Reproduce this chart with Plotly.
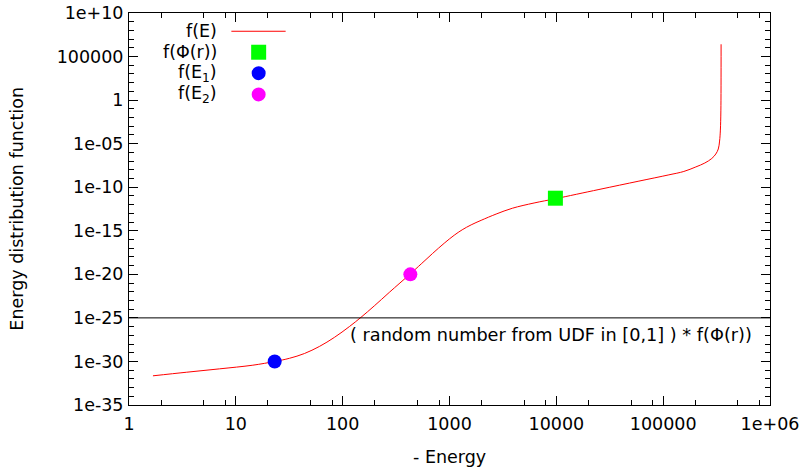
import plotly.graph_objects as go

# ---- data ----
energy = [1.676, 3.439, 7.04, 14.42, 23.14, 31.76, 43.86, 60.56, 83.64, 115.5,
          148.6, 197.8, 273.2, 429.2, 543.9, 693.6, 892.4, 1107, 1314, 1595,
          1978, 2732, 3880, 6189, 9788, 25060, 59280, 113100, 156100, 202200,
          245300, 285200, 310900, 328100, 337400, 343200, 346900, 348400]
log_f = [-31.65, -31.24, -30.85, -30.43, -30.0, -29.64, -29.09, -28.28, -27.24,
         -26.0, -24.93, -23.62, -22.07, -19.95, -18.80, -17.61, -16.43, -15.51,
         -14.89, -14.32, -13.80, -13.08, -12.41, -11.81, -11.32, -10.26, -9.30,
         -8.58, -8.19, -7.67, -7.22, -6.70, -6.19, -5.61, -4.70, -3.44, -1.15,
         6.41]
f_vals = [10 ** v for v in log_f]

phi_E = [9800]
phi_f = [5.5e-12]
e1_E = [23.1]
e1_f = [1e-30]
e2_E = [430]
e2_f = [1e-20]
threshold = 1e-25

ytick_vals = [1e10, 1e5, 1, 1e-5, 1e-10, 1e-15, 1e-20, 1e-25, 1e-30, 1e-35]
ytick_text = ["1e+10", "100000", "1", "1e-05", "1e-10", "1e-15", "1e-20",
              "1e-25", "1e-30", "1e-35"]
xtick_vals = [1, 10, 100, 1000, 10000, 100000, 1000000]
xtick_text = ["1", "10", "100", "1000", "10000", "100000", "1e+06"]

x_minor = [m * 10 ** d for d in range(6) for m in (2, 5, 8)]
y_minor = [10.0 ** k for k in range(-35, 11) if k % 5 != 0]

FONT = "DejaVu Sans"
FS = 17.5

fig = go.Figure()
fig.add_trace(go.Scatter(x=energy, y=f_vals, mode="lines",
                         line=dict(color="#ff0000", width=1, shape="spline", smoothing=1.0),
                         showlegend=False))
fig.add_trace(go.Scatter(x=[1, 1e6], y=[threshold, threshold], mode="lines",
                         line=dict(color="black", width=1), showlegend=False))
fig.add_trace(go.Scatter(x=phi_E, y=phi_f, mode="markers",
                         marker=dict(symbol="square", size=15, color="#00ff00"),
                         showlegend=False))
fig.add_trace(go.Scatter(x=e1_E, y=e1_f, mode="markers",
                         marker=dict(symbol="circle", size=14, color="#0000ff"),
                         showlegend=False))
fig.add_trace(go.Scatter(x=e2_E, y=e2_f, mode="markers",
                         marker=dict(symbol="circle", size=14, color="#ff00ff"),
                         showlegend=False))

axis_common = dict(showline=True, linecolor="black", linewidth=1, mirror="ticks",
                   ticks="inside", ticklen=9, tickwidth=1, tickcolor="black",
                   showgrid=False, zeroline=False, automargin=False,
                   tickfont=dict(family=FONT, size=FS, color="black"))

fig.update_xaxes(type="log", range=[0, 6], tickmode="array", tickvals=xtick_vals,
                 ticktext=xtick_text,
                 minor=dict(tickmode="array", tickvals=x_minor, ticks="inside",
                            ticklen=5, tickcolor="black", tickwidth=1),
                 ticklabelstandoff=3,
                 **axis_common)
fig.update_yaxes(type="log", range=[-35, 10], tickmode="array", tickvals=ytick_vals,
                 ticktext=ytick_text,
                 minor=dict(tickmode="array", tickvals=y_minor, ticks="inside",
                            ticklen=5, tickcolor="black", tickwidth=1),
                 ticklabelstandoff=1,
                 **axis_common)

W, H = 803, 470
L, R, T, B = 129.3, 770.5, 12.7, 405.5
def px(xp):
    return (xp - L) / (R - L)
def py(yp):
    return (B - yp) / (B - T)

# axis titles
fig.add_annotation(x=px(449.7), y=py(458), xref="paper", yref="paper",
                   xanchor="center", yanchor="middle", text="- Energy", showarrow=False,
                   font=dict(family=FONT, size=FS, color="black"))
fig.add_annotation(x=px(17), y=py(209), xref="paper", yref="paper", textangle=-90,
                   xanchor="center", yanchor="middle", text="Energy distribution function",
                   showarrow=False, font=dict(family=FONT, size=FS, color="black"))

# annotation text for the threshold line
fig.add_annotation(x=1, xref="paper", xanchor="right", xshift=-16,
                   y=-25, yref="y", yanchor="middle", yshift=-17,
                   text="( random number from UDF in [0,1] ) * f(Φ(r))", showarrow=False,
                   font=dict(family=FONT, size=17.7, color="black"))

# manual key (gnuplot style: label left, sample right)
labels = ["f(E)", "f(Φ(r))", "f(E<sub>1</sub>)", "f(E<sub>2</sub>)"]
rows = [31, 52, 73, 94.3]
for lab, r in zip(labels, rows):
    fig.add_annotation(x=px(219.5), y=py(r), xref="paper", yref="paper",
                       xanchor="right", yanchor="middle", text=lab, showarrow=False,
                       font=dict(family=FONT, size=FS, color="black"))
fig.add_shape(type="line", xref="paper", yref="paper", x0=px(231.7), x1=px(286),
              y0=py(rows[0]), y1=py(rows[0]), line=dict(color="#ff0000", width=1))
fig.add_shape(type="rect", xref="paper", yref="paper", x0=px(251.5), x1=px(266.5),
              y0=py(rows[1] + 7.5), y1=py(rows[1] - 7.5), line=dict(width=0),
              fillcolor="#00ff00")
for r, c in zip(rows[2:], ["#0000ff", "#ff00ff"]):
    fig.add_shape(type="circle", xref="paper", yref="paper", x0=px(252), x1=px(266),
                  y0=py(r + 7), y1=py(r - 7), line=dict(width=0), fillcolor=c)

fig.update_layout(width=W, height=H, plot_bgcolor="white", paper_bgcolor="white",
                  margin=dict(l=L, r=W - R, t=T, b=H - B),
                  font=dict(family=FONT, size=FS, color="black"))

fig.write_html("out.html", config={"displayModeBar": False},
               post_script="document.body.style.margin='0px';document.body.style.overflow='hidden';")
